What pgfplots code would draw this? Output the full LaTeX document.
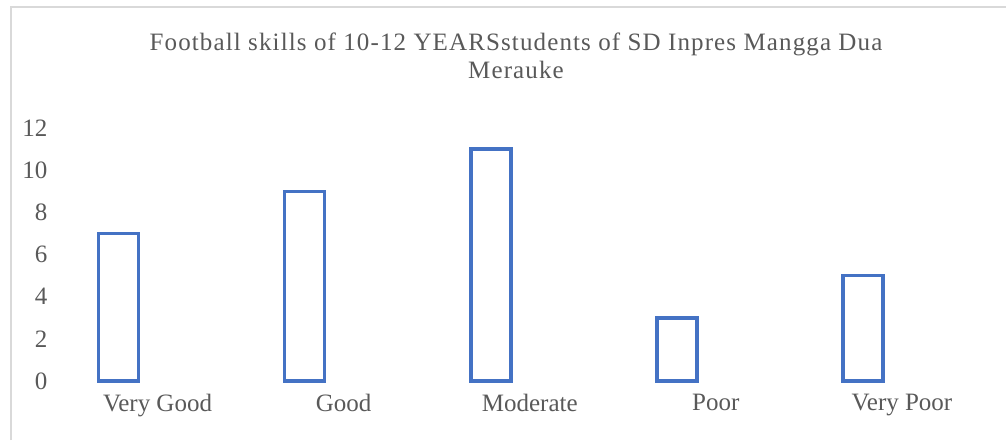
\documentclass[border=0pt]{standalone}
\usepackage{pgfplots}
\pgfplotsset{compat=1.18}
\usepackage{fontspec}
\setmainfont{Liberation Serif}
\newfontfamily\titlefont[LetterSpace=4.5]{Liberation Serif}
\definecolor{barblue}{HTML}{4472C4}
\definecolor{txtgrey}{HTML}{595959}
\definecolor{framegrey}{HTML}{D9D9D9}
\begin{document}
\begin{tikzpicture}[x=0.5pt,y=0.5pt]
\path[use as bounding box] (0,0) rectangle (1006,440);
\draw[framegrey, line width=1pt] (11,0) -- (11,433) -- (1006,433);
\node[txtgrey, align=center, font=\titlefont\fontsize{12.5}{14}\selectfont] at (516,384)
  {Football skills of 10-12 YEARSstudents of SD Inpres Mangga Dua\\Merauke};
\begin{axis}[
  at={(64.5*0.5pt,59*0.5pt)}, anchor=south west,
  scale only axis, width=465.25pt, height=126.4pt,
  xmin=-0.5, xmax=4.5, ymin=0, ymax=12,
  axis lines=none,
  xtick={0,1,2,3,4},
  xticklabels={Very Good,Good,Moderate,Poor,Very Poor},
  ytick={0,2,4,6,8,10,12},
  tick style={draw=none},
  ticklabel style={txtgrey, font=\fontsize{12.5}{14}\selectfont},
  /pgf/number format/assume math mode=true,
  yticklabel style={xshift=-5pt},
  xticklabel style={yshift=-3pt},
  hide x axis=false, hide y axis=false,
  axis x line*=bottom, axis y line*=left,
  x axis line style={draw=none}, y axis line style={draw=none},
  clip=false,
]
\addplot[ybar, bar width=20pt, bar shift=-19.5pt, draw=barblue, fill=white, line width=1.8pt]
  coordinates {(0,7) (1,9) (2,11) (3,3) (4,5)};
\end{axis}
\end{tikzpicture}
\end{document}
